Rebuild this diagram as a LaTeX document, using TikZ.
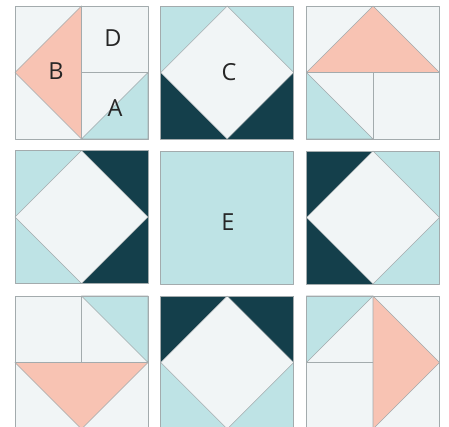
\documentclass[tikz,border=0pt]{standalone}
\usepackage{fontspec}
\setmainfont{Open Sans}
\definecolor{lightpc}{HTML}{F1F5F6}
\definecolor{tealpc}{HTML}{BEE3E5}
\definecolor{darkpc}{HTML}{143F4B}
\definecolor{salmonpc}{HTML}{F8C3B3}
\definecolor{seampc}{HTML}{A3ABAD}
\tikzset{
  seam/.style={draw=seampc, line width=0.6pt, line join=round},
  lbl/.style={font=\fontsize{23.5}{23.5}\selectfont, text=black!85, inner sep=0pt}
}
% block with triangle B, squares D and A; #1 x, #2 y (top-left), #3 rotation
\newcommand{\starblock}[3]{%
  \begin{scope}[shift={(#1+66.5,#2+66.5)}, rotate=#3]
    \fill[lightpc] (-66.5,-66.5) rectangle (66.5,66.5);
    \fill[salmonpc, seam] (0,-66.5) -- (0,66.5) -- (-66.5,0) -- cycle;
    \fill[tealpc, seam] (0,66.5) -- (66.5,66.5) -- (66.5,0) -- cycle;
    \draw[seam] (0,0) -- (66.5,0);
    \draw[seam] (-66.5,-66.5) rectangle (66.5,66.5);
  \end{scope}}
% diamond block; top half colour #4, bottom half colour #5
\newcommand{\diamblock}[5]{%
  \begin{scope}[shift={(#1+66.5,#2+66.5)}, rotate=#3]
    \fill[#4] (-66.5,-66.5) rectangle (66.5,0);
    \fill[#5] (-66.5,0) rectangle (66.5,66.5);
    \fill[lightpc, seam] (0,-66.5) -- (66.5,0) -- (0,66.5) -- (-66.5,0) -- cycle;
    \draw[seam] (-66.5,-66.5) rectangle (66.5,66.5);
  \end{scope}}
\begin{document}
\begin{tikzpicture}[x=1pt,y=-1pt]
\useasboundingbox (0,0) rectangle (449,427);
\fill[white] (0,0) rectangle (449,427);
\begin{scope}
\clip (0,0) rectangle (449,427);
% row 1
\starblock{15}{6}{0}
\diamblock{160.7}{6}{0}{tealpc}{darkpc}
\starblock{306.5}{6}{-90}
% row 2
\diamblock{15}{150.5}{90}{tealpc}{darkpc}
\fill[tealpc, seam] (160.7,151.5) rectangle (293.7,284.5);
\diamblock{306.5}{151}{-90}{tealpc}{darkpc}
% row 3
\starblock{15}{296}{90}
\diamblock{160.7}{296}{180}{tealpc}{darkpc}
\starblock{306.5}{296}{180}
\end{scope}
% labels
\node[lbl] (labD) at (113,38) {D};
\node[lbl] (labB) at (56,71) {B};
\node[lbl] (labA) at (115,108) {A};
\node[lbl] (labC) at (229,72) {C};
\node[lbl] (labE) at (228,222) {E};
\end{tikzpicture}
\end{document}
